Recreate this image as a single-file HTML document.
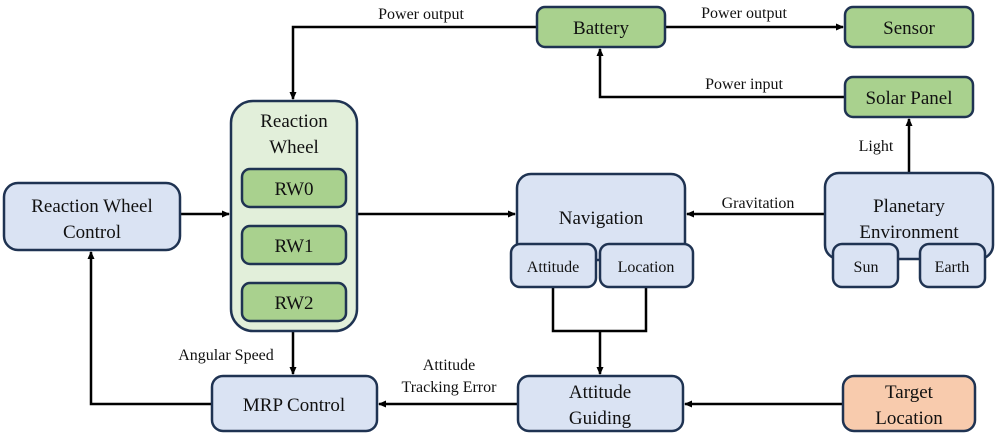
<!DOCTYPE html>
<html><head><style>body{margin:0;background:#fff}svg{display:block}text{font-family:"Liberation Serif","DejaVu Serif",serif;fill:#111;text-anchor:middle}</style></head>
<body>
<svg width="997" height="438" viewBox="0 0 997 438" xmlns="http://www.w3.org/2000/svg">
<defs><marker id="a" markerWidth="8" markerHeight="8" refX="7" refY="4" orient="auto" markerUnits="userSpaceOnUse"><path d="M0,0.5 L8,4 L0,7.5 Z" fill="#000"/></marker></defs>
<g fill="none" stroke="#000" stroke-width="2.5">
<path d="M537,27 H293 V99" marker-end="url(#a)"/>
<path d="M665,27 H843" marker-end="url(#a)"/>
<path d="M845,97 H600 V49" marker-end="url(#a)"/>
<path d="M909,174 V119" marker-end="url(#a)"/>
<path d="M180,214 H229" marker-end="url(#a)"/>
<path d="M357,214 H515" marker-end="url(#a)"/>
<path d="M825,214 H687" marker-end="url(#a)"/>
<path d="M553,287 V331 H646 V287 M600,331 V374" marker-end="url(#a)"/>
<path d="M293,331 V374" marker-end="url(#a)"/>
<path d="M518,404 H379" marker-end="url(#a)"/>
<path d="M843,404 H685" marker-end="url(#a)"/>
<path d="M212,404 H91 V252" marker-end="url(#a)"/>
</g>
<g stroke="#1f3352" stroke-width="2.5">
<rect x="537" y="7" width="128" height="40" rx="8" fill="#a9d18e"/>
<rect x="845" y="7" width="128" height="40" rx="8" fill="#a9d18e"/>
<rect x="845" y="77" width="128" height="40" rx="8" fill="#a9d18e"/>
<rect x="231" y="101" width="126" height="230" rx="22" fill="#e2efda"/>
<rect x="242" y="169" width="104" height="38" rx="8" fill="#a9d18e"/>
<rect x="242" y="226" width="104" height="38" rx="8" fill="#a9d18e"/>
<rect x="242" y="283" width="104" height="38" rx="8" fill="#a9d18e"/>
<rect x="4" y="183" width="176" height="67" rx="14" fill="#dae3f3"/>
<rect x="212" y="376" width="165" height="55" rx="11" fill="#dae3f3"/>
<rect x="517" y="174" width="168" height="86" rx="14" fill="#dae3f3"/>
<rect x="511" y="244" width="85" height="43" rx="9" fill="#dae3f3"/>
<rect x="600" y="244" width="93" height="43" rx="9" fill="#dae3f3"/>
<rect x="825" y="173" width="168" height="86" rx="14" fill="#dae3f3"/>
<rect x="833" y="244" width="65" height="43" rx="9" fill="#dae3f3"/>
<rect x="920" y="244" width="65" height="43" rx="9" fill="#dae3f3"/>
<rect x="518" y="376" width="165" height="55" rx="11" fill="#dae3f3"/>
<rect x="843" y="376" width="132" height="55" rx="11" fill="#f8cbad"/>
</g>
<g font-size="19">
<text x="601" y="34">Battery</text>
<text x="909" y="34">Sensor</text>
<text x="909" y="104">Solar Panel</text>
<text x="294" y="127">Reaction</text><text x="294" y="153">Wheel</text>
<text x="294" y="195">RW0</text><text x="294" y="252">RW1</text><text x="294" y="309">RW2</text>
<text x="92" y="212">Reaction Wheel</text><text x="92" y="238">Control</text>
<text x="294" y="411">MRP Control</text>
<text x="601" y="224">Navigation</text>
<text x="909" y="212">Planetary</text><text x="909" y="238">Environment</text>
<text x="600" y="398">Attitude</text><text x="600" y="424">Guiding</text>
<text x="909" y="398">Target</text><text x="909" y="424">Location</text>
</g>
<g font-size="16">
<text x="553" y="272">Attitude</text><text x="646" y="272">Location</text>
<text x="866" y="272">Sun</text><text x="952" y="272">Earth</text>
<text x="421" y="19">Power output</text>
<text x="744" y="18">Power output</text>
<text x="744" y="89">Power input</text>
<text x="876" y="151">Light</text>
<text x="758" y="208">Gravitation</text>
<text x="226" y="360">Angular Speed</text>
<text x="449" y="370">Attitude</text><text x="449" y="392">Tracking Error</text>
</g>
</svg>
</body></html>
